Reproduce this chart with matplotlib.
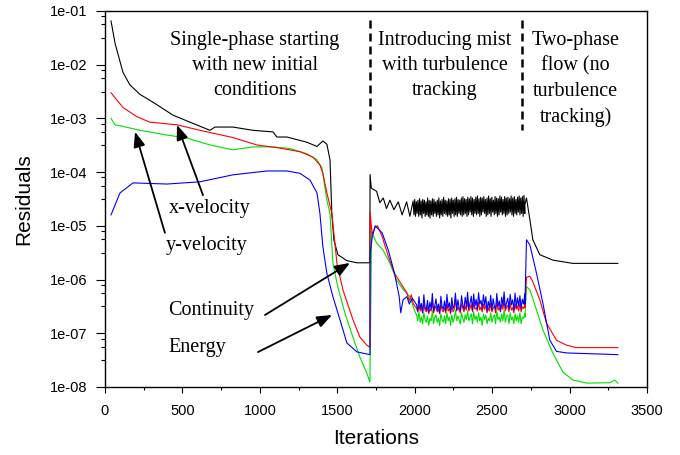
import numpy as np
import matplotlib.pyplot as plt
from matplotlib.ticker import FuncFormatter, LogLocator, MultipleLocator

# --- single-phase restart (iterations 0-1710) ---
cont_it1 = [39, 65, 116, 161, 226, 310, 439, 549, 678, 710, 826, 955, 1085, 1110, 1175,
            1304, 1369, 1407, 1433, 1453, 1465, 1478, 1504, 1562, 1627, 1710]
cont_r1 = [6.5e-2, 2.5e-2, 7.2e-3, 4.2e-3, 2.8e-3, 2.0e-3, 1.15e-3, 8.5e-4, 6.0e-4, 6.9e-4,
           6.9e-4, 6.0e-4, 5.6e-4, 4.5e-4, 4.5e-4, 3.6e-4, 3.0e-4, 3.8e-4, 3.3e-4, 1.7e-4,
           1.7e-5, 5.5e-6, 2.9e-6, 2.25e-6, 2.05e-6, 2.05e-6]

xvel_it1 = [39, 116, 207, 290, 465, 613, 826, 981, 1130, 1259, 1343, 1388, 1407, 1433,
            1465, 1498, 1536, 1601, 1646, 1691, 1710]
xvel_r1 = [3.0e-3, 1.6e-3, 1.07e-3, 8.5e-4, 7.6e-4, 6.0e-4, 4.4e-4, 3.2e-4, 2.8e-4, 2.4e-4,
           1.9e-4, 1.35e-4, 9.5e-5, 4.1e-5, 1.7e-5, 2.0e-6, 6.5e-7, 1.8e-7, 8.5e-8, 6.0e-8, 5.5e-8]

ener_it1 = [39, 65, 116, 226, 400, 529, 678, 826, 955, 1085, 1195, 1304, 1369, 1401, 1420,
            1433, 1453, 1472, 1504, 1549, 1601, 1646, 1691, 1710]
ener_r1 = [1.0e-3, 7.6e-4, 7.1e-4, 6.0e-4, 4.9e-4, 4.3e-4, 3.2e-4, 2.6e-4, 2.95e-4, 2.95e-4,
           2.75e-4, 2.2e-4, 1.7e-4, 1.2e-4, 5.2e-5, 3.0e-5, 1.7e-5, 2.0e-6, 7.2e-7, 2.4e-7,
           8.5e-8, 3.6e-8, 1.8e-8, 1.25e-8]

yvel_it1 = [39, 97, 181, 400, 613, 826, 1046, 1175, 1259, 1324, 1369, 1388, 1407, 1433,
            1472, 1517, 1562, 1627, 1710]
yvel_r1 = [1.6e-5, 4.1e-5, 6.3e-5, 6.0e-5, 6.6e-5, 8.9e-5, 1.05e-4, 1.05e-4, 9.5e-5, 7.1e-5,
           4.1e-5, 1.7e-5, 4.1e-6, 1.3e-6, 4.8e-7, 1.8e-7, 6.6e-8, 4.5e-8, 4.0e-8]

# --- mist introduced with turbulence tracking (1710-2711) ---
cont_it2 = [1712, 1720, 1754, 1775, 1797, 1818, 1840, 1866, 1894, 1919, 1948, 1969]
cont_r2 = [9.0e-5, 5.0e-5, 4.4e-5, 2.7e-5, 3.3e-5, 2.1e-5, 3.0e-5, 2.0e-5, 2.8e-5, 1.6e-5,
           2.8e-5, 1.5e-5]
# dense oscillation 1990-2711, peaks and troughs (x 1e-5)
cont_hi = [2.9, 3.1, 2.8, 3.0, 3.2, 2.9, 3.1, 3.0, 2.8, 3.3, 3.0, 2.9, 3.2, 3.1, 2.8, 3.0, 3.3, 2.9, 3.1, 3.4,
           3.0, 2.9, 3.2, 3.1, 3.3, 3.0, 3.2, 3.4, 3.1, 3.0, 3.3, 3.5, 3.2, 3.1, 3.4, 3.2, 3.5, 3.3, 3.1, 3.4,
           3.6, 3.2, 3.4, 3.3, 3.5, 3.1, 3.3, 3.6, 3.2, 3.4, 3.0, 3.5, 3.3, 3.2, 3.6, 3.4, 3.1, 3.5, 3.3, 3.4,
           3.2, 3.6, 3.3, 3.5, 3.1, 3.4, 3.6, 3.3, 3.5, 3.7]
cont_lo = [1.6, 1.5, 1.7, 1.5, 1.6, 1.4, 1.7, 1.5, 1.6, 1.5, 1.4, 1.6, 1.5, 1.7, 1.5, 1.6, 1.4, 1.6, 1.5, 1.7,
           1.6, 1.5, 1.6, 1.4, 1.7, 1.5, 1.6, 1.5, 1.7, 1.6, 1.5, 1.6, 1.7, 1.5, 1.6, 1.8, 1.6, 1.5, 1.7, 1.6,
           1.7, 1.5, 1.6, 1.8, 1.7, 1.5, 1.6, 1.7, 1.5, 1.8, 1.6, 1.7, 1.5, 1.6, 1.8, 1.6, 1.7, 1.5, 1.6, 1.7,
           1.8, 1.6, 1.5, 1.7, 1.6, 1.8, 1.6, 1.7, 1.5, 1.7]

xvel_it2 = [1711, 1712, 1725, 1745, 1760, 1790, 1830, 1870, 1910, 1950, 1965, 1978, 1990]
xvel_r2 = [5.5e-8, 1.8e-5, 7.0e-6, 9.5e-6, 1.0e-5, 6.3e-6, 2.7e-6, 1.3e-6, 8.5e-7, 5.6e-7,
           4.0e-7, 5.2e-7, 3.6e-7]
ener_it2 = [1711, 1722, 1754, 1797, 1840, 1883, 1926, 1969, 2000]
ener_r2 = [1.25e-8, 7.7e-6, 4.8e-6, 3.5e-6, 2.0e-6, 9.8e-7, 6.5e-7, 4.8e-7, 2.6e-7]
yvel_it2 = [1711, 1712, 1725, 1745, 1790, 1830, 1870, 1900, 1910, 1925, 1950, 1965, 1985]
yvel_r2 = [4.0e-8, 3.0e-6, 6.0e-6, 1.0e-5, 7.4e-6, 3.5e-6, 1.3e-6, 4.8e-7, 2.4e-7, 4.2e-7,
           4.8e-7, 3.5e-7, 4.5e-7]

# fluctuating residuals 2012-2711 (x 1e-7)
xvel_noise = [2.9, 2.5, 3.3, 2.6, 3.0, 2.4, 3.6, 2.7, 2.5, 3.1, 2.3, 2.8, 2.6, 3.9, 2.4, 2.9, 3.2, 2.5, 2.8, 2.3,
              3.4, 2.7, 2.5, 3.0, 2.4, 3.5, 2.6, 2.9, 2.3, 3.3, 2.5, 2.8, 4.4, 2.6, 3.1, 2.7, 2.4, 3.6, 2.9, 2.5,
              3.2, 2.7, 4.1, 2.6, 2.9, 3.4, 2.5, 3.7, 2.8, 3.0, 2.6, 3.8, 2.7, 3.1, 2.5, 3.5, 2.8, 3.3, 2.4, 3.0,
              2.6, 3.6, 2.5, 2.9, 3.2, 2.4, 3.9, 2.7, 3.0, 2.5, 3.4, 2.8, 4.2, 2.6, 3.1, 3.3, 2.5, 3.7, 2.7, 3.0,
              2.4, 3.5, 2.8, 3.2, 2.6, 3.6, 2.5, 3.1, 2.9, 3.4]
ener_noise = [2.2, 1.7, 2.5, 1.6, 2.0, 1.5, 2.4, 1.8, 1.6, 2.1, 1.4, 1.9, 1.7, 2.6, 1.5, 2.0, 2.2, 1.6, 1.9, 1.4,
              2.3, 1.8, 1.6, 2.1, 1.5, 2.4, 1.7, 2.0, 1.4, 2.2, 1.6, 1.9, 2.7, 1.7, 2.1, 1.8, 1.5, 2.4, 1.9, 1.6,
              2.2, 1.8, 2.6, 1.7, 2.0, 2.3, 1.5, 2.5, 1.8, 2.1, 1.6, 2.4, 1.7, 2.0, 1.4, 2.3, 1.8, 2.2, 1.5, 1.9,
              1.7, 2.4, 1.6, 2.0, 2.2, 1.5, 2.6, 1.8, 2.0, 1.6, 2.3, 1.7, 2.7, 1.6, 2.1, 2.2, 1.5, 2.4, 1.8, 2.0,
              1.5, 2.3, 1.7, 2.1, 1.6, 2.4, 1.5, 2.0, 1.9, 2.3]
yvel_noise = [3.4, 2.6, 4.8, 2.9, 3.6, 2.4, 5.2, 3.0, 2.7, 4.1, 2.5, 3.8, 2.8, 5.5, 2.6, 3.2, 4.4, 2.7, 3.5, 2.4,
              4.9, 3.1, 2.8, 4.0, 2.6, 5.3, 3.0, 3.7, 2.5, 4.6, 2.9, 3.3, 5.6, 2.7, 4.2, 3.0, 2.6, 5.0, 3.4, 2.8,
              4.7, 3.1, 5.8, 2.9, 3.6, 4.9, 2.7, 5.4, 3.2, 4.3, 2.8, 5.7, 3.5, 4.1, 2.9, 5.2, 3.3, 4.8, 2.6, 3.9,
              3.0, 5.1, 2.7, 4.4, 3.2, 2.8, 5.5, 3.1, 4.0, 2.6, 4.7, 3.3, 5.9, 2.9, 3.7, 4.5, 2.8, 5.3, 3.4, 4.2,
              2.7, 5.6, 3.0, 4.6, 3.2, 5.0, 2.9, 4.3, 3.5, 5.4]

# --- two-phase flow without turbulence tracking (2711-3312) ---
cont_it3 = [2712, 2722, 2744, 2763, 2808, 2892, 3021, 3312]
cont_r3 = [2.5e-5, 3.3e-5, 1.3e-5, 5.5e-6, 2.9e-6, 2.3e-6, 2.0e-6, 2.0e-6]
xvel_it3 = [2712, 2722, 2744, 2763, 2808, 2851, 2916, 2981, 3045, 3312]
xvel_r3 = [3.0e-7, 1.1e-6, 1.15e-6, 9.1e-7, 4.2e-7, 1.55e-7, 7.4e-8, 6.0e-8, 5.4e-8, 5.4e-8]
ener_it3 = [2712, 2722, 2744, 2787, 2828, 2892, 2957, 3021, 3110, 3260, 3292, 3312]
ener_r3 = [2.0e-7, 7.4e-7, 6.4e-7, 2.7e-7, 1.15e-7, 4.3e-8, 1.9e-8, 1.35e-8, 1.18e-8, 1.2e-8,
           1.35e-8, 1.18e-8]
yvel_it3 = [2712, 2722, 2744, 2787, 2828, 2873, 2916, 2981, 3312]
yvel_r3 = [3.5e-7, 5.5e-6, 4.4e-6, 1.3e-6, 3.6e-7, 7.4e-8, 4.6e-8, 4.3e-8, 4.0e-8]

stage_breaks = [1711, 2690]


def stitch(it_a, r_a, noise, scale, start, stop, it_b, r_b):
    n_it = np.linspace(start, stop, len(noise))
    it = np.concatenate([it_a, n_it, it_b])
    r = np.concatenate([r_a, np.array(noise) * scale, r_b])
    return it, r


def main():
    fig = plt.figure(figsize=(6.8, 4.55), dpi=100)
    ax = fig.add_axes([0.1544, 0.1495, 0.797, 0.8264])

    # continuity: interleave peaks and troughs of the oscillation
    zz = np.empty(2 * len(cont_hi))
    zz[0::2] = cont_hi
    zz[1::2] = cont_lo
    c_it, c_r = stitch(cont_it1 + cont_it2, cont_r1 + cont_r2, zz, 1e-5, 1990, 2711,
                       cont_it3, cont_r3)
    e_it, e_r = stitch(ener_it1 + ener_it2, ener_r1 + ener_r2, ener_noise, 1e-7, 2012, 2711,
                       ener_it3, ener_r3)
    x_it, x_r = stitch(xvel_it1 + xvel_it2, xvel_r1 + xvel_r2, xvel_noise, 1e-7, 2012, 2711,
                       xvel_it3, xvel_r3)
    y_it, y_r = stitch(yvel_it1 + yvel_it2, yvel_r1 + yvel_r2, yvel_noise, 1e-7, 2012, 2711,
                       yvel_it3, yvel_r3)

    ax.plot(c_it, c_r, color='black', lw=0.8)
    ax.plot(e_it, e_r, color='#00e000', lw=0.8)
    ax.plot(x_it, x_r, color='#ff0000', lw=0.8)
    ax.plot(y_it, y_r, color='#0000ff', lw=0.8)

    for xb in stage_breaks:
        ax.plot([xb, xb], [10**-1.17, 10**-3.22], color='black', lw=1.8,
                linestyle=(0, (3.2, 2.0)))

    ax.set_yscale('log')
    ax.set_xlim(0, 3500)
    ax.set_ylim(1e-8, 1e-1)
    ax.xaxis.set_major_locator(MultipleLocator(500))
    ax.xaxis.set_minor_locator(MultipleLocator(250))
    ax.yaxis.set_major_locator(LogLocator(base=10, numticks=10))
    ax.yaxis.set_minor_locator(LogLocator(base=10, subs=[3.16, 5.62, 7.94], numticks=10))
    ax.yaxis.set_major_formatter(FuncFormatter(lambda v, p: f"{v:.0e}"))
    ax.yaxis.set_minor_formatter(FuncFormatter(lambda v, p: ""))

    ax.tick_params(axis='both', which='major', direction='out', labelsize=10.5,
                   width=0.8, color='black')
    ax.tick_params(axis='x', which='major', length=4, pad=8)
    ax.tick_params(axis='x', which='minor', length=2.5, width=0.8)
    ax.tick_params(axis='y', which='major', length=6.5, pad=6)
    ax.tick_params(axis='y', which='minor', length=3, width=0.8)
    for lab in ax.get_xticklabels() + ax.get_yticklabels():
        lab.set_family('Liberation Sans')
    for s in ax.spines.values():
        s.set_linewidth(1.0)

    ax.set_xlabel('Iterations', family='Liberation Sans', fontsize=15, labelpad=8)
    ax.set_ylabel('Residuals', family='Liberation Sans', fontsize=15, labelpad=12)

    serif = dict(family='Liberation Serif', fontsize=14.5)
    top = 10**-1.38
    ax.text(968, top, 'Single-phase starting\nwith new initial\nconditions',
            ha='center', va='top', linespacing=1.42, **serif)
    ax.text(2195, top, 'Introducing mist\nwith turbulence\ntracking',
            ha='center', va='top', linespacing=1.42, **serif)
    ax.text(3040, top, 'Two-phase\nflow (no\nturbulence\ntracking)',
            ha='center', va='top', linespacing=1.42, **serif)

    arrow = dict(arrowstyle='-|>,head_length=0.9,head_width=0.35', color='black',
                 lw=1.3, shrinkA=0, shrinkB=0)
    ax.annotate('', xy=(194, 10**-3.25), xytext=(387, 10**-5.13), arrowprops=arrow)
    ax.annotate('', xy=(465, 10**-3.12), xytext=(633, 10**-4.43), arrowprops=arrow)
    ax.annotate('', xy=(1582, 10**-5.69), xytext=(1033, 10**-6.66), arrowprops=arrow)
    ax.annotate('', xy=(1466, 10**-6.66), xytext=(988, 10**-7.35), arrowprops=arrow)

    ax.text(410, 10**-4.67, 'x-velocity', ha='left', va='center', **serif)
    ax.text(395, 10**-5.36, 'y-velocity', ha='left', va='center', **serif)
    ax.text(410, 10**-6.57, 'Continuity', ha='left', va='center', **serif)
    ax.text(410, 10**-7.27, 'Energy', ha='left', va='center', **serif)

    fig.savefig('out.png', dpi=100)


if __name__ == '__main__':
    main()
